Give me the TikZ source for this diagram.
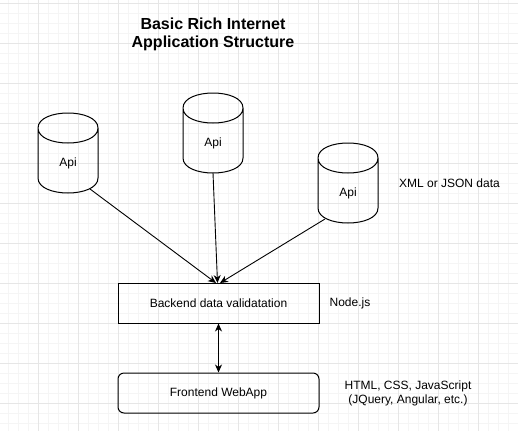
\documentclass[tikz,border=0pt]{standalone}
\usepackage{fontspec}
\setmainfont{Liberation Sans}
\usetikzlibrary{arrows.meta}
\definecolor{gridminor}{RGB}{245,245,245}
\definecolor{gridmajor}{RGB}{230,230,230}
\tikzset{
  lbl/.style={inner sep=0pt, font=\fontsize{12}{14}\selectfont, align=center},
  ttl/.style={inner sep=0pt, font=\fontsize{16}{18}\selectfont\bfseries, align=center},
  boxnode/.style={draw, line width=1pt, minimum width=201pt, minimum height=40pt, inner sep=0pt, font=\fontsize{12}{14}\selectfont},
  arr/.style={line width=0.9pt, -{Stealth[length=8pt,width=7pt,inset=2.5pt]}},
  darr/.style={line width=0.9pt, {Stealth[length=8pt,width=7pt,inset=2.5pt]}-{Stealth[length=8pt,width=7pt,inset=2.5pt]}},
  apicyl/.pic={\draw[line width=1pt] (0,15) .. controls (0,-5) and (60,-5) .. (60,15) .. controls (60,35) and (0,35) .. (0,15) -- (0,65) .. controls (0,85) and (60,85) .. (60,65) -- (60,15);}
}
\begin{document}
\begin{tikzpicture}[x=1pt,y=-1pt]
\fill[white] (0,0) rectangle (518,431);
\useasboundingbox (0,0) rectangle (518,431);
% grid
\foreach \i in {0,...,51} {\draw[gridminor, line width=0.75pt] (8+10*\i,0) -- (8+10*\i,431);}
\foreach \i in {0,...,42} {\draw[gridminor, line width=0.75pt] (0,3+10*\i) -- (518,3+10*\i);}
\foreach \i in {0,...,12} {\draw[gridmajor, line width=0.75pt] (38+40*\i,0) -- (38+40*\i,431);}
\foreach \i in {0,...,10} {\draw[gridmajor, line width=0.75pt] (0,3+40*\i) -- (518,3+40*\i);}
% title
\node[ttl] (title) at (213,34) {Basic Rich Internet\\Application Structure};
% cylinders
\pic at (38,113) {apicyl};
\pic at (183,93) {apicyl};
\pic at (318,143) {apicyl};
\node[lbl] (api1) at (68,163) {Api};
\node[lbl] (api2) at (213,143) {Api};
\node[lbl] (api3) at (348,193) {Api};
\coordinate (c1out) at (90,189);
\coordinate (c2out) at (213,173);
\coordinate (c3out) at (325,219);
% boxes
\node[boxnode] (back) at (218.5,303) {Backend data validatation};
\node[boxnode, rounded corners=6pt] (front) at (218.5,393) {Frontend WebApp};
\coordinate (in1) at (216,283);
\coordinate (in2) at (217.5,283);
\coordinate (in3) at (220,283);
% side labels
\node[lbl] (xml) at (449.5,183) {XML or JSON data};
\node[lbl] (nodejs) at (350,303) {Node.js};
\node[lbl] (tech) at (408,393.5) {HTML, CSS, JavaScript\\(JQuery, Angular, etc.)};
% connectors
\draw[arr] (c1out) -- (in1);
\draw[arr] (c2out) -- (in2);
\draw[arr] (c3out) -- (in3);
\draw[darr] (back.south) -- (front.north);
\end{tikzpicture}
\end{document}
